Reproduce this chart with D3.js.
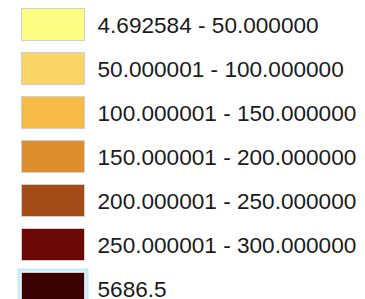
<!DOCTYPE html>
<html><head><meta charset="utf-8">
<script src="https://cdn.jsdelivr.net/npm/d3@7"></script>
<style>html,body{margin:0;padding:0;background:#fff;overflow:hidden}</style>
</head><body>
<svg id="c" width="365" height="299"></svg>
<script>
const labels = ["4.692584 - 50.000000","50.000001 - 100.000000","100.000001 - 150.000000","150.000001 - 200.000000","200.000001 - 250.000000","250.000001 - 300.000000","5686.5"];
const colors = ["#fdfd84","#f9d466","#f6ba47","#de8e2c","#a34c17","#6c0906","#3a0203"];
const svg = d3.select("#c");
const y = d3.scaleBand().domain(d3.range(labels.length)).range([8, 8 + 44.0*7]).paddingInner(0);
const g = svg.selectAll("g.item").data(labels).join("g").attr("class","item")
  .attr("transform",(d,i)=>`translate(0,${y(i)})`);
g.filter((d,i)=>i===labels.length-1).append("rect")
  .attr("x",19).attr("y",-2).attr("width",68).attr("height",36)
  .attr("fill","none").attr("stroke","#c6ebfb").attr("stroke-width",3);
g.append("rect").attr("x",21.5).attr("y",0.5).attr("width",63).attr("height",32)
  .attr("fill",(d,i)=>colors[i]).attr("stroke","#cfcfcf").attr("stroke-width",1);
g.append("text").attr("x",97.5).attr("y",24.5)
  .attr("font-family","Liberation Sans, Arial, sans-serif").attr("font-size",22.6)
  .attr("fill","#1b1b1b").text(d=>d);
</script>
</body></html>
